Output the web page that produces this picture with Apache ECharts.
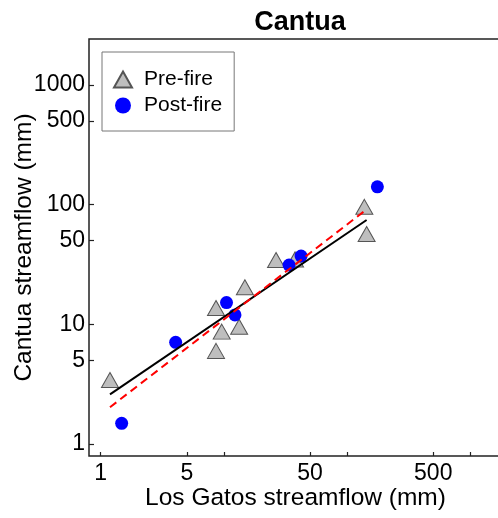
<!DOCTYPE html>
<html>
<head>
<meta charset="utf-8">
<script src="https://cdn.jsdelivr.net/npm/echarts@6/dist/echarts.min.js"></script>
<style>html,body{margin:0;padding:0;background:#fff}#c{width:498px;height:518px}</style>
</head>
<body>
<div id="c"></div>
<script>
// Data
const preX  = [1.19, 8.63, 9.6, 8.63, 13.3, 14.8, 26.5, 37.8, 138, 144];
const preY  = [3.43, 13.7, 8.7, 6.0, 9.56, 20.4, 34.5, 34.9, 96, 56.9];
const postX = [1.48, 4.06, 10.5, 12.3, 33.8, 42.3, 176];
const postY = [1.49, 7.08, 15.2, 12.0, 31.3, 37.2, 141];
const fitX     = [1.19, 144];
const fitSolid = [2.6, 74.5];
const fitDash  = [2.03, 91.4];
const xTicks  = [1, 5, 10, 50, 100, 500, 1000];
const xLabels = [1, 5, 50, 500];
const yTicks  = [1, 5, 10, 50, 100, 500, 1000];
const yLabels = [1, 5, 10, 50, 100, 500, 1000];

const zip = (a, b) => a.map((v, i) => [v, b[i]]);
const font = 'Liberation Sans, Arial, sans-serif';
const chart = echarts.init(document.getElementById('c'), null, {renderer: 'canvas'});
chart.setOption({
  animation: false,
  title: {
    text: 'Cantua', left: 295, top: 4, textAlign: 'center',
    textStyle: {fontFamily: font, fontSize: 27, fontWeight: 'bold', color: '#000'}
  },
  grid: {
    left: 89, top: 39, width: 413, height: 417,
    outerBoundsMode: 'none', containLabel: false,
    show: true, borderColor: '#222', borderWidth: 1.5, backgroundColor: 'transparent'
  },
  legend: {
    data: ['Pre-fire', 'Post-fire'],
    orient: 'vertical', left: 102, top: 52,
    padding: [17, 12, 15, 11], itemGap: 5,
    itemWidth: 18, itemHeight: 16,
    borderColor: '#777', borderWidth: 1,
    textStyle: {fontFamily: font, fontSize: 21, color: '#000', padding: [0, 0, 0, 7]}
  },
  xAxis: {
    type: 'log', logBase: 10, min: 0.804, max: 1807,
    name: 'Los Gatos streamflow (mm)', nameLocation: 'middle', nameGap: 30, nameMoveOverlap: false,
    nameTextStyle: {fontFamily: font, fontSize: 24.5, color: '#000'},
    axisLine: {show: false},
    axisTick: {show: true, inside: true, length: 4, customValues: xTicks, lineStyle: {color: '#222', width: 1.2}},
    axisLabel: {show: true, margin: 6, customValues: xLabels, fontFamily: font, fontSize: 23, color: '#000',
      formatter: v => String(Math.round(v))},
    splitLine: {show: false}, minorTick: {show: false}
  },
  yAxis: {
    type: 'log', logBase: 10, min: 0.794, max: 2427,
    name: 'Cantua streamflow (mm)', nameLocation: 'middle', nameGap: 52, nameMoveOverlap: false,
    nameTextStyle: {fontFamily: font, fontSize: 24.5, color: '#000'},
    axisLine: {show: false},
    axisTick: {show: true, inside: true, length: 5, customValues: yTicks, lineStyle: {color: '#222', width: 1.2}},
    axisLabel: {show: true, margin: 4, customValues: yLabels, fontFamily: font, fontSize: 23, color: '#000',
      formatter: v => String(Math.round(v))},
    splitLine: {show: false}, minorTick: {show: false}
  },
  series: [
    {
      name: 'Pre-fire', type: 'scatter', symbol: 'triangle', symbolSize: [17, 15],
      itemStyle: {color: '#bebebe', borderColor: '#555', borderWidth: 1, opacity: 1},
      data: zip(preX, preY), z: 2
    },
    {
      name: 'Post-fire', type: 'scatter', symbol: 'circle', symbolSize: 13,
      itemStyle: {color: '#0000ff', opacity: 1},
      data: zip(postX, postY), z: 3
    },
    {
      name: 'fitSolid', type: 'line', symbol: 'none', silent: true,
      lineStyle: {color: '#000', width: 2},
      data: zip(fitX, fitSolid), z: 4
    },
    {
      name: 'fitDash', type: 'line', symbol: 'none', silent: true,
      lineStyle: {color: '#ff0000', width: 2, type: [8, 5]},
      data: zip(fitX, fitDash), z: 5
    }
  ]
});
</script>
</body>
</html>
